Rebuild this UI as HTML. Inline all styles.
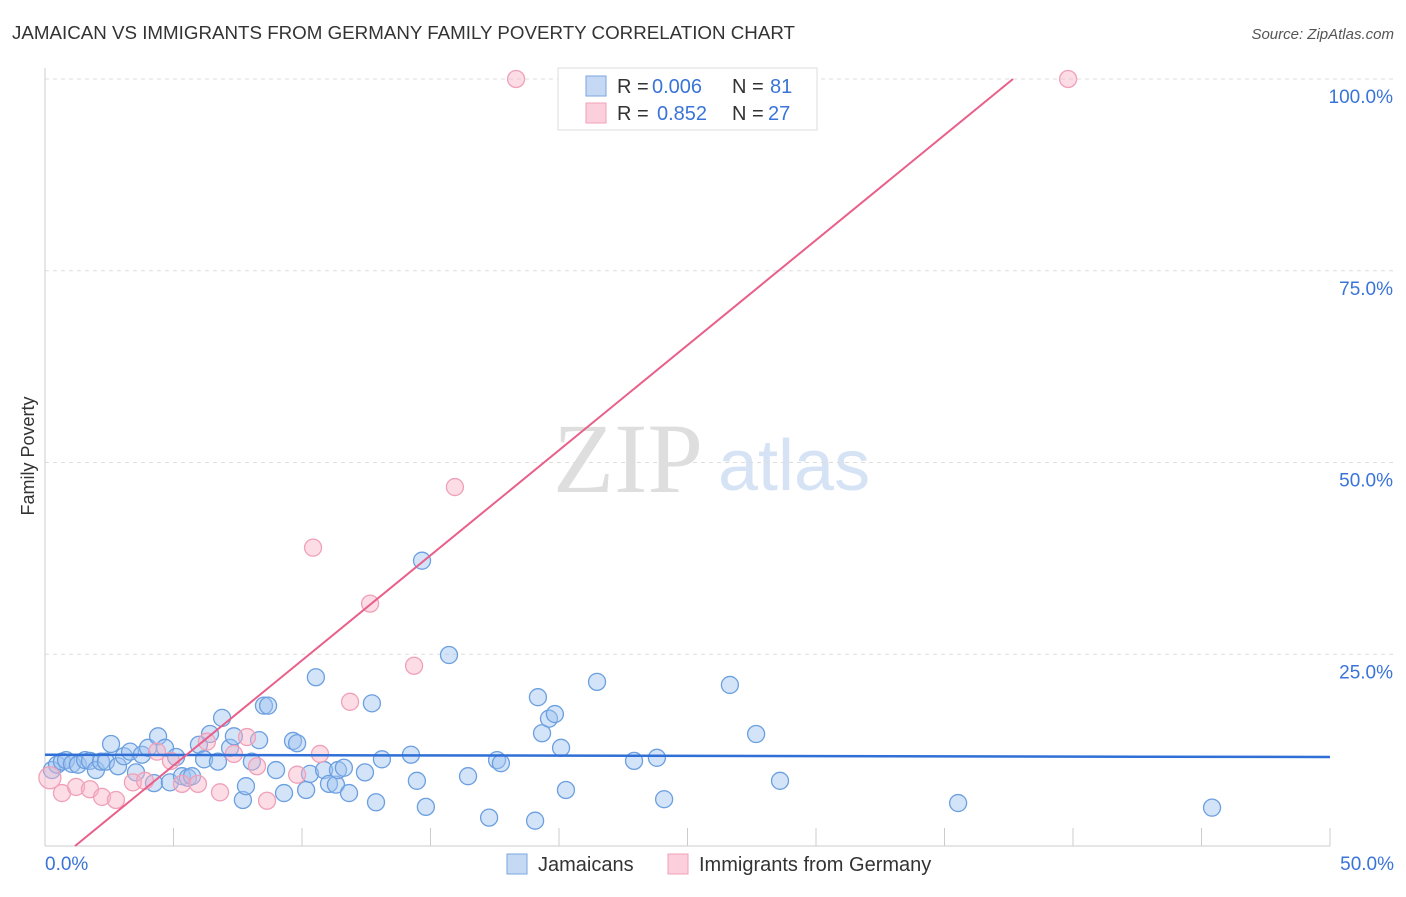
<!DOCTYPE html>
<html><head><meta charset="utf-8"><style>
body{margin:0;background:#fff;font-family:"Liberation Sans",sans-serif;}
</style></head><body>
<svg id="c" width="1406" height="892" font-family="Liberation Sans, sans-serif">
<text x="12" y="39" font-size="18" fill="#333" textLength="783" lengthAdjust="spacingAndGlyphs">JAMAICAN VS IMMIGRANTS FROM GERMANY FAMILY POVERTY CORRELATION CHART</text>
<text x="1394" y="39" font-size="15" fill="#555" font-style="italic" text-anchor="end">Source: ZipAtlas.com</text>
<text x="34" y="456" font-size="18" fill="#333" text-anchor="middle" transform="rotate(-90 34 456)">Family Poverty</text>
<text x="553" y="492" font-size="100" fill="#dedede" style="font-family:'Liberation Serif',serif">ZIP</text>
<text x="718" y="490" font-size="72" fill="#d5e3f5">atlas</text>
<g id="grid"></g><g id="pts"></g><g id="lines"></g>
<g font-size="20">
<rect x="558" y="68" width="259" height="62" fill="#fff" stroke="#ddd"/>
<rect x="586" y="76" width="20" height="20" fill="#c5d9f5" stroke="#7aa6e0"/>
<rect x="586" y="103" width="20" height="20" fill="#fbd0dc" stroke="#f0a0b8"/>
<text x="617" y="93" fill="#333">R =</text><text x="652" y="93" fill="#3a74d8">0.006</text>
<text x="732" y="93" fill="#333">N =</text><text x="770" y="93" fill="#3a74d8">81</text>
<text x="617" y="120" fill="#333">R =</text><text x="657" y="120" fill="#3a74d8">0.852</text>
<text x="732" y="120" fill="#333">N =</text><text x="768" y="120" fill="#3a74d8">27</text>
</g>
<g>
<rect x="507" y="854" width="20" height="20" fill="#c5d9f5" stroke="#7aa6e0"/>
<text x="538" y="871" font-size="20" fill="#333">Jamaicans</text>
<rect x="668" y="854" width="20" height="20" fill="#fbd0dc" stroke="#f0a0b8"/>
<text x="699" y="871" font-size="20" fill="#333">Immigrants from Germany</text>
</g>
</svg>
<script>
const blueX=[0.27,0.47,0.66,0.82,1.05,1.28,1.56,1.75,1.98,2.18,2.37,2.57,2.84,3.07,3.31,3.54,3.77,4.01,4.24,4.40,4.67,4.86,5.10,5.33,5.56,5.72,5.99,6.19,6.42,6.73,6.89,7.20,7.35,7.70,7.82,8.05,8.33,8.52,8.68,8.99,9.30,9.65,9.81,10.16,10.31,10.54,10.86,11.05,11.32,11.40,11.63,11.83,12.45,12.72,12.88,13.11,14.24,14.47,14.67,14.82,15.72,16.46,17.28,17.59,17.74,19.07,19.18,19.34,19.61,19.84,20.08,20.27,21.48,22.92,23.81,24.09,26.65,27.67,28.60,35.53,45.41];
const blueY=[9.9,10.6,11.0,11.2,10.7,10.6,11.2,11.1,9.9,11.0,11.0,13.3,10.4,11.7,12.3,9.6,11.9,12.8,8.2,14.3,12.8,8.3,11.6,9.1,8.9,9.1,13.2,11.3,14.6,11.0,16.7,12.8,14.3,6.0,7.8,11.0,13.8,18.3,18.3,9.9,6.9,13.7,13.4,7.3,9.4,22.0,9.9,8.1,8.0,9.9,10.2,6.9,9.6,18.6,5.7,11.3,11.9,8.5,37.2,5.1,24.9,9.1,3.7,11.2,10.8,3.3,19.4,14.7,16.6,17.2,12.8,7.3,21.4,11.1,11.5,6.1,21.0,14.6,8.5,5.6,5.0];
const pinkX=[0.19,0.66,1.21,1.75,2.22,2.76,3.42,3.89,4.36,4.90,5.33,5.95,6.30,6.81,7.35,7.86,8.25,8.64,9.81,10.43,10.70,11.87,12.65,14.36,15.95,18.33,39.81];
const pinkY=[8.9,6.9,7.7,7.4,6.4,6.0,8.3,8.5,12.3,11.1,8.1,8.1,13.6,7.0,12.0,14.2,10.4,5.9,9.3,38.9,12.0,18.8,31.6,23.5,46.8,100,100];
const blueTrend=[11.9,11.6];
const pinkTrend=[-3.2,2.74];
const yTicks=[25,50,75,100];
const xTickLabels=["0.0%","50.0%"];
const NS="http://www.w3.org/2000/svg";
const X=v=>45+v*25.7, Y=v=>846-v*7.67;
function mk(t,a,p){const e=document.createElementNS(NS,t);for(const k in a)e.setAttribute(k,a[k]);p.appendChild(e);return e;}
const grid=document.getElementById('grid'),pts=document.getElementById('pts'),lines=document.getElementById('lines');
yTicks.forEach(t=>{const l=mk('line',{x1:45,x2:1394,y1:Y(t),y2:Y(t),stroke:'#ddd','stroke-dasharray':'4,4'},grid);


const tx=mk('text',{x:1393,y:Y(t)+24,'font-size':19,fill:'#3a74d8','text-anchor':'end'},grid);tx.textContent=t.toFixed(1)+'%';

});
mk('line',{x1:45,x2:45,y1:68,y2:846,stroke:'#ccc'},grid);
mk('line',{x1:45,x2:1330,y1:846,y2:846,stroke:'#ccc'},grid);
for(let i=0;i<=10;i++){mk('line',{x1:X(i*5),x2:X(i*5),y1:828,y2:846,stroke:'#ccc'},grid);}
[[0,45,'start'],[50,1394,'end']].forEach((d,i)=>{const tx=mk('text',{x:d[1],y:870,'font-size':19,fill:'#3a74d8','text-anchor':d[2]},grid);tx.textContent=xTickLabels[i];

});
blueX.forEach((x,i)=>{const c=mk('circle',{cx:X(x),cy:Y(blueY[i]),r:8.5,fill:'rgba(160,195,240,0.45)',stroke:'#6b9fe0','stroke-width':1.3},pts);

});
pinkX.forEach((x,i)=>{const c=mk('circle',{cx:X(x),cy:Y(pinkY[i]),r:i==0?11:8.5,fill:'rgba(248,180,200,0.45)',stroke:'#f0a0b8','stroke-width':1.3},pts);

});
const bl=mk('line',{x1:X(0),x2:X(50),y1:Y(blueTrend[0]),y2:Y(blueTrend[1]),stroke:'#2f6fd6','stroke-width':2.5},lines);


const x0=-pinkTrend[0]/pinkTrend[1], x1=(100-pinkTrend[0])/pinkTrend[1];
const pl=mk('line',{x1:X(x0),x2:X(x1),y1:Y(0),y2:Y(100),stroke:'#e8608a','stroke-width':2},lines);


</script>
</body></html>
